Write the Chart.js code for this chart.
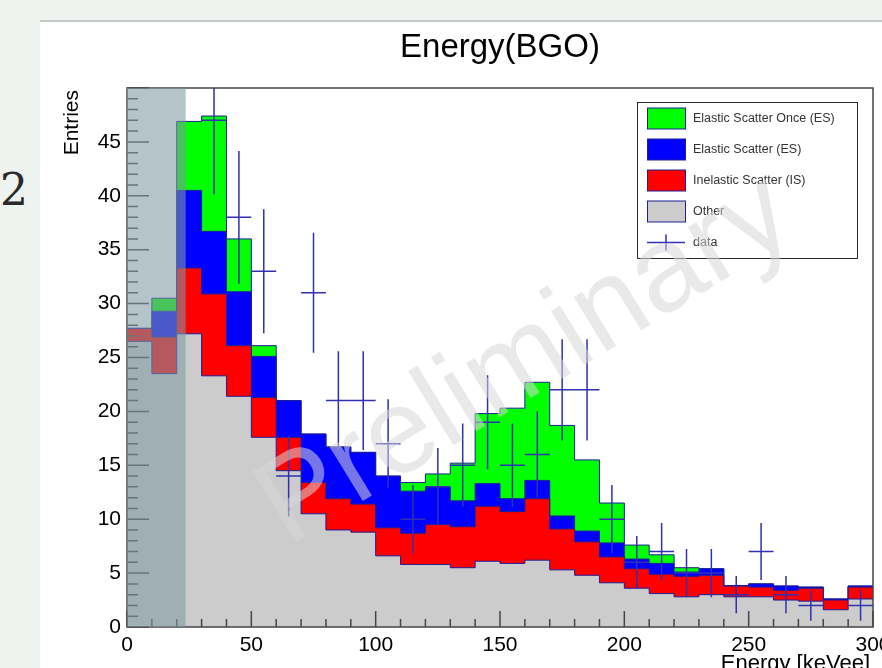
<!DOCTYPE html>
<html>
<head>
<meta charset="utf-8">
<title>Energy(BGO)</title>
<script src="https://cdn.jsdelivr.net/npm/chart.js@4/dist/chart.umd.min.js"></script>
<style>
  html, body { margin: 0; padding: 0; width: 882px; height: 668px; overflow: hidden; background: #eff3f0; }
  #topRule { position: absolute; left: 40px; top: 20px; width: 842px; height: 2px; background: #c9ccc9; }
  #panel { position: absolute; left: 40px; top: 22px; width: 842px; height: 646px; background: #ffffff; }
  #pageNo { position: absolute; left: 0px; top: 164px; font-family: 'DejaVu Serif', 'Liberation Serif', serif; font-size: 44px; color: #2a2a2a; }
  canvas { position: absolute; left: 0; top: 0; }
</style>
</head>
<body>
<div id="pageNo">2</div>
<div id="topRule"></div>
<div id="panel"><canvas id="chart" width="842" height="646"></canvas></div>
<script>
// Histogram binning in keVee (30 bins of 10 keVee)
const binEdges = [0, 10, 20, 30, 40, 50, 60, 70, 80, 90, 100, 110, 120, 130, 140, 150,
                  160, 170, 180, 190, 200, 210, 220, 230, 240, 250, 260, 270, 280, 290, 300];

// Simulated contributions per bin (entries), stacked in this order
const otherCounts      = [26.5, 23.5, 27.2, 23.3, 21.4, 17.6, 14.5, 10.5, 9.0, 8.8, 6.6, 5.8, 5.8, 5.5, 6.1,
                          5.9, 6.2, 5.3, 4.8, 4.1, 3.6, 3.1, 2.8, 3.0, 2.8, 2.8, 2.5, 2.4, 1.6, 2.6];
const inelasticCounts  = [1.2, 3.4, 6.1, 7.6, 4.7, 3.7, 3.1, 2.9, 2.9, 2.6, 2.6, 2.9, 3.7, 3.8, 5.1,
                          4.8, 5.7, 3.8, 3.1, 2.4, 1.8, 1.8, 1.9, 1.8, 1.0, 0.9, 0.9, 1.2, 0.9, 1.1];
const elasticCounts    = [0.0, 2.4, 7.2, 5.8, 5.0, 3.8, 3.4, 4.5, 4.8, 4.8, 4.8, 3.9, 3.5, 2.4, 2.1,
                          1.2, 1.7, 1.2, 1.0, 1.3, 0.9, 1.0, 0.4, 0.6, 0.05, 0.3, 0.4, 0.1, 0.1, 0.1];
const elasticOnceCounts = [0.0, 1.2, 6.4, 10.7, 4.9, 1.0, 0.0, 0.0, 0.0, 0.0, 0.0, 0.8, 1.2, 3.5, 6.5,
                          8.4, 9.1, 8.4, 6.6, 3.7, 1.3, 0.8, 0.4, 0.0, 0.0, 0.0, 0.0, 0.0, 0.0, 0.0];

// Measured counts per bin (null = no entry drawn)
const dataCounts = [null, null, null, 47, 38, 33, 14, 31, 21, 21, 17, 10, 13, 15, 19,
                    15, 16, 22, 22, 10, 6, 7, 5, 5, 3, 7, 3, 2, null, 2];

// Shaded region below the analysis threshold (keVee)
const thresholdKeV = 23.6;

const seriesNames = ['Elastic Scatter Once (ES)', 'Elastic Scatter (ES)', 'Inelastic Scatter (IS)', 'Other', 'data'];
const yTickStep = 5, xTickStep = 50;

const FONT = "'Liberation Sans', Arial, Helvetica, sans-serif";
const OUTLINE = '#1e1e96';
const DATA_COLOR = '#3030b0';
const FILLS = { once: '#00ff00', elastic: '#0000ff', inelastic: '#ff0000', other: '#cccccc' };

// Running sums give the top of each stacked layer
function cumulate(layers) {
  const out = [];
  let run = new Array(binEdges.length - 1).fill(0);
  layers.forEach(l => { run = run.map((s, i) => s + l[i]); out.push(run.slice()); });
  return out;
}
const [topOther, topInelastic, topElastic, topOnce] =
  cumulate([otherCounts, inelasticCounts, elasticCounts, elasticOnceCounts]);

// Histogram outline: one point per lower edge, closed at the last upper edge
function histPoints(vals) {
  const pts = vals.map((v, i) => ({ x: binEdges[i], y: v }));
  pts.push({ x: binEdges[vals.length], y: vals[vals.length - 1] });
  return pts;
}

function histDataset(label, vals, color) {
  return {
    label, data: histPoints(vals), stepped: true, fill: 'origin',
    backgroundColor: color, borderColor: OUTLINE, borderWidth: 1,
    pointRadius: 0, tension: 0
  };
}

const dataPoints = [];
dataCounts.forEach((c, i) => {
  if (c !== null) dataPoints.push({ x: (binEdges[i] + binEdges[i + 1]) / 2, y: c, lo: binEdges[i], hi: binEdges[i + 1] });
});

// Frame, inward ticks, threshold shading and data crosses
const histDecor = {
  id: 'histDecor',
  afterDatasetsDraw(chart) {
    const { ctx, chartArea: a, scales: { x, y } } = chart;
    ctx.save();
    // frame
    ctx.strokeStyle = '#454545';
    ctx.lineWidth = 1.5;
    ctx.strokeRect(a.left, a.top, a.right - a.left, a.bottom - a.top);
    // ticks inside the frame
    ctx.lineWidth = 1.5;
    ctx.beginPath();
    for (let v = binEdges[0]; v <= binEdges[binEdges.length - 1]; v += 10) {
      const px = x.getPixelForValue(v);
      const len = (v % xTickStep === 0) ? 16 : 8;
      ctx.moveTo(px, a.bottom); ctx.lineTo(px, a.bottom - len);
    }
    for (let v = y.min; v <= y.max; v += 1) {
      const py = y.getPixelForValue(v);
      const len = (v % yTickStep === 0) ? 22 : 11;
      ctx.moveTo(a.left, py); ctx.lineTo(a.left + len, py);
    }
    ctx.stroke();
    // threshold shading
    const x0 = x.getPixelForValue(0), x1 = x.getPixelForValue(thresholdKeV);
    ctx.fillStyle = 'rgba(125,153,160,0.58)';
    ctx.fillRect(x0, a.top, x1 - x0, a.bottom - a.top);
    // data with Poisson errors
    ctx.beginPath();
    ctx.rect(a.left, a.top, a.right - a.left, a.bottom - a.top);
    ctx.clip();
    ctx.strokeStyle = DATA_COLOR;
    ctx.lineWidth = 1.5;
    ctx.beginPath();
    dataPoints.forEach(p => {
      const err = Math.sqrt(p.y);
      const cx = x.getPixelForValue(p.x), cy = y.getPixelForValue(p.y);
      ctx.moveTo(x.getPixelForValue(p.lo), cy); ctx.lineTo(x.getPixelForValue(p.hi), cy);
      ctx.moveTo(cx, y.getPixelForValue(p.y + err)); ctx.lineTo(cx, y.getPixelForValue(p.y - err));
    });
    ctx.stroke();
    ctx.restore();
  },
  afterDraw(chart) {
    const { ctx, chartArea: a } = chart;
    ctx.save();
    ctx.fillStyle = '#000';
    // title
    ctx.font = '33px ' + FONT;
    ctx.textAlign = 'center';
    ctx.textBaseline = 'alphabetic';
    ctx.fillText('Energy(BGO)', (a.left + a.right) / 2, 35);
    // x title
    ctx.font = '22px ' + FONT;
    ctx.textAlign = 'right';
    ctx.fillText('Energy [keVee]', a.right - 3, 648);
    // y title
    ctx.font = '21px ' + FONT;
    ctx.save();
    ctx.translate(38, a.top + 2);
    ctx.rotate(-Math.PI / 2);
    ctx.textAlign = 'right';
    ctx.fillText('Entries', 0, 0);
    ctx.restore();

    // legend
    const bx = 597.5, by = 80.5, bw = 220, bh = 156;
    ctx.fillStyle = '#ffffff';
    ctx.fillRect(bx, by, bw, bh);
    ctx.strokeStyle = '#2a2a2a';
    ctx.lineWidth = 1;
    ctx.strokeRect(bx, by, bw, bh);
    const swatches = [FILLS.once, FILLS.elastic, FILLS.inelastic, FILLS.other, null];
    ctx.font = '12.5px ' + FONT;
    ctx.textAlign = 'left';
    ctx.textBaseline = 'middle';
    seriesNames.forEach((name, i) => {
      const cy = 96.5 + 31 * i;
      if (swatches[i]) {
        ctx.fillStyle = swatches[i];
        ctx.fillRect(607.5, cy - 10.5, 38, 21);
        ctx.strokeStyle = OUTLINE;
        ctx.strokeRect(607.5, cy - 10.5, 38, 21);
      } else {
        ctx.strokeStyle = DATA_COLOR;
        ctx.lineWidth = 1.5;
        ctx.beginPath();
        ctx.moveTo(607, cy); ctx.lineTo(645, cy);
        ctx.moveTo(626, cy - 8); ctx.lineTo(626, cy + 8);
        ctx.stroke();
        ctx.lineWidth = 1;
      }
      ctx.fillStyle = '#333';
      ctx.fillText(name, 653, cy);
    });

    // watermark
    ctx.save();
    ctx.translate(486, 340);
    ctx.rotate(-31.5 * Math.PI / 180);
    ctx.font = '120px ' + FONT;
    ctx.textAlign = 'center';
    ctx.textBaseline = 'middle';
    ctx.fillStyle = 'rgba(215,215,215,0.55)';
    ctx.fillText('Preliminary', 0, 0);
    ctx.restore();
    ctx.restore();
  }
};

Chart.defaults.font.family = FONT;

new Chart(document.getElementById('chart'), {
  type: 'line',
  data: {
    datasets: [
      { label: seriesNames[4], data: dataPoints, showLine: false, pointRadius: 0, borderColor: DATA_COLOR },
      histDataset(seriesNames[3], topOther, FILLS.other),
      histDataset(seriesNames[2], topInelastic, FILLS.inelastic),
      histDataset(seriesNames[1], topElastic, FILLS.elastic),
      histDataset(seriesNames[0], topOnce, FILLS.once)
    ]
  },
  options: {
    responsive: false,
    animation: false,
    devicePixelRatio: 1,
    layout: { autoPadding: false, padding: { top: 66, right: 9, left: 0, bottom: 0 } },
    plugins: { legend: { display: false }, tooltip: { enabled: false }, title: { display: false } },
    scales: {
      x: {
        type: 'linear', min: 0, max: 300,
        grid: { display: false, drawTicks: false },
        border: { display: false },
        ticks: { stepSize: xTickStep, padding: 6, color: '#000', font: { size: 21 }, maxRotation: 0 },
        afterFit: s => { s.height = 41; s.paddingLeft = 0; s.paddingRight = 0; }
      },
      y: {
        type: 'linear', min: 0, max: 50,
        grid: { display: false, drawTicks: false },
        border: { display: false },
        ticks: { stepSize: yTickStep, padding: 6, color: '#000', font: { size: 21 },
                 callback: v => (v >= 50 ? '' : v) },
        afterFit: s => { s.width = 87; s.paddingTop = 0; s.paddingBottom = 0; }
      }
    }
  },
  plugins: [histDecor]
});
</script>
</body>
</html>
